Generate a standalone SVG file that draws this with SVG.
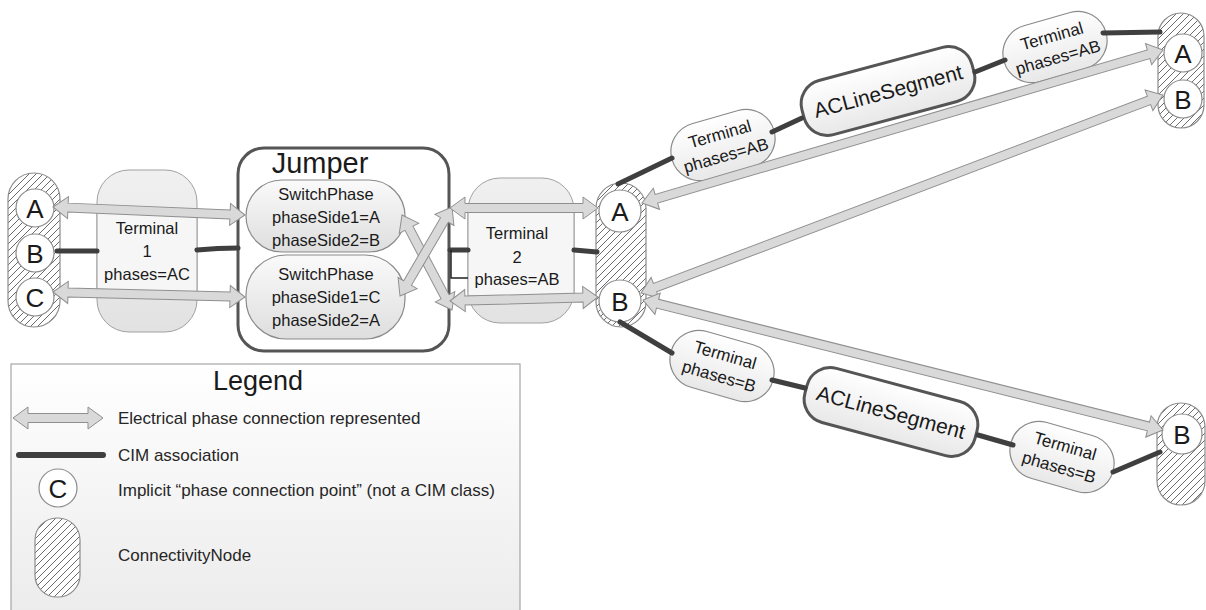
<svg xmlns="http://www.w3.org/2000/svg" width="1206" height="610" viewBox="0 0 1206 610">
  <defs>
    <pattern id="hatch" patternUnits="userSpaceOnUse" width="7" height="7">
      <rect width="7" height="7" fill="#ffffff"/>
      <path d="M0,7 L7,0 M-1.75,1.75 L1.75,-1.75 M5.25,8.75 L8.75,5.25" stroke="#3a3a3a" stroke-width="0.75"/>
    </pattern>
    <linearGradient id="gTerm" x1="0" y1="0" x2="0" y2="1">
      <stop offset="0" stop-color="#f0f0f0"/>
      <stop offset="1" stop-color="#e2e2e2"/>
    </linearGradient>
    <linearGradient id="gSoft" x1="0" y1="0" x2="0" y2="1">
      <stop offset="0" stop-color="#fafafa"/>
      <stop offset="1" stop-color="#dedede"/>
    </linearGradient>
    <linearGradient id="gPill" x1="0" y1="0" x2="0" y2="1">
      <stop offset="0" stop-color="#ffffff"/>
      <stop offset="1" stop-color="#e8e8e8"/>
    </linearGradient>
    <linearGradient id="gLegend" x1="0" y1="0" x2="0" y2="1">
      <stop offset="0" stop-color="#ffffff"/>
      <stop offset="1" stop-color="#ebebeb"/>
    </linearGradient>
    <style>
      text { font-family: "Liberation Sans", Arial, sans-serif; fill: #1a1a1a; }
      .cn { fill: url(#hatch); stroke: #8c8c8c; stroke-width: 1.2; }
      .pt { fill: #ffffff; stroke: #8c8c8c; stroke-width: 1.2; }
      .ptl { font-size: 26px; text-anchor: middle; dominant-baseline: central; }
      .term { fill: url(#gTerm); stroke: #a0a0a0; stroke-width: 1; }
      .inner { fill: #f6f6f6; stroke: #9a9a9a; stroke-width: 1; }
      .tt { font-size: 16.5px; text-anchor: middle; dominant-baseline: central; }
      .sp { fill: url(#gSoft); stroke: #8a8a8a; stroke-width: 1.2; }
      .pill { fill: url(#gPill); stroke: #8a8a8a; stroke-width: 1.2; }
      .pl { font-size: 17px; text-anchor: middle; dominant-baseline: central; }
      .acls { fill: url(#gPill); stroke: #555555; stroke-width: 3; }
      .al { font-size: 21px; text-anchor: middle; dominant-baseline: central; }
      .assoc { stroke: #3f3f3f; stroke-width: 5; stroke-linecap: round; fill: none; }
      .phase { fill: #d9d9d9; stroke: #8f8f8f; stroke-width: 1; stroke-linejoin: miter; }
      .lg { font-size: 17px; dominant-baseline: central; fill: #262626; }
    </style>
  </defs>

  <!-- ConnectivityNode on the left with three phase points -->
  <g id="cn1">
    <rect class="cn" x="8" y="173" width="52" height="154" rx="26"/>
    <circle class="pt" cx="35" cy="208" r="19"/>
    <circle class="pt" cx="35" cy="253" r="19"/>
    <circle class="pt" cx="35" cy="297" r="19"/>
    <text class="ptl" x="35" y="209">A</text>
    <text class="ptl" x="35" y="254">B</text>
    <text class="ptl" x="35" y="298">C</text>
  </g>

  <g id="terminal1">
    <rect class="term" x="97" y="170" width="100" height="162" rx="32"/>
    <rect class="inner" x="97" y="212" width="100" height="82"/>
    <text class="tt" x="147" y="228">Terminal</text>
    <text class="tt" x="147" y="251">1</text>
    <text class="tt" x="147" y="274">phases=AC</text>
  </g>

  <g id="jumper">
    <rect x="238" y="148" width="211" height="203" rx="26" fill="#ffffff" stroke="#555555" stroke-width="3"/>
    <text x="320" y="173" font-size="29" text-anchor="middle">Jumper</text>
  </g>

  <g id="switchphase1">
    <rect class="sp" x="246" y="180" width="159" height="72" rx="36"/>
    <text class="tt" x="326" y="194">SwitchPhase</text>
    <text class="tt" x="326" y="217">phaseSide1=A</text>
    <text class="tt" x="326" y="240">phaseSide2=B</text>
  </g>

  <g id="switchphase2">
    <rect class="sp" x="246" y="255" width="159" height="84" rx="40"/>
    <text class="tt" x="326" y="274">SwitchPhase</text>
    <text class="tt" x="326" y="297">phaseSide1=C</text>
    <text class="tt" x="326" y="320">phaseSide2=A</text>
  </g>

  <g id="terminal2">
    <rect class="term" x="468" y="178" width="106" height="145" rx="32"/>
    <rect class="inner" x="468" y="212" width="106" height="84"/>
    <text class="tt" x="517" y="233">Terminal</text>
    <text class="tt" x="517" y="257">2</text>
    <text class="tt" x="517" y="279">phases=AB</text>
  </g>

  <!-- ConnectivityNode in the middle, phases A and B -->
  <g id="cn2">
    <rect class="cn" x="596" y="183" width="50" height="144" rx="25"/>
    <circle class="pt" cx="620" cy="211" r="21"/>
    <circle class="pt" cx="620" cy="301" r="21"/>
    <text class="ptl" x="620" y="212">A</text>
    <text class="ptl" x="620" y="302">B</text>
  </g>

  <g id="terminal-ab-1" transform="translate(723,145) rotate(-16)">
    <rect class="pill" x="-53" y="-29" width="106" height="58" rx="29"/>
    <text class="pl" x="0" y="-11">Terminal</text>
    <text class="pl" x="0" y="11">phases=AB</text>
  </g>

  <g id="aclinesegment-ab" transform="translate(888,91) rotate(-15)">
    <rect class="acls" x="-88" y="-28" width="176" height="56" rx="24"/>
    <text class="al" x="0" y="0">ACLineSegment</text>
  </g>

  <g id="terminal-ab-2" transform="translate(1055,47) rotate(-16)">
    <rect class="pill" x="-53" y="-29" width="106" height="58" rx="29"/>
    <text class="pl" x="0" y="-11">Terminal</text>
    <text class="pl" x="0" y="11">phases=AB</text>
  </g>

  <g id="cn3">
    <rect class="cn" x="1158" y="13" width="46" height="115" rx="23"/>
    <circle class="pt" cx="1183" cy="53" r="19"/>
    <circle class="pt" cx="1183" cy="99" r="19"/>
    <text class="ptl" x="1183" y="54" font-size="25">A</text>
    <text class="ptl" x="1183" y="100" font-size="25">B</text>
  </g>

  <g id="terminal-b-1" transform="translate(722,366) rotate(16)">
    <rect class="pill" x="-53" y="-29" width="106" height="58" rx="29"/>
    <text class="pl" x="0" y="-11">Terminal</text>
    <text class="pl" x="0" y="11">phases=B</text>
  </g>

  <g id="aclinesegment-b" transform="translate(891,412) rotate(15)">
    <rect class="acls" x="-88" y="-28" width="176" height="56" rx="24"/>
    <text class="al" x="0" y="0">ACLineSegment</text>
  </g>

  <g id="terminal-b-2" transform="translate(1062,457) rotate(16)">
    <rect class="pill" x="-53" y="-29" width="106" height="58" rx="29"/>
    <text class="pl" x="0" y="-11">Terminal</text>
    <text class="pl" x="0" y="11">phases=B</text>
  </g>

  <g id="cn4">
    <rect class="cn" x="1157" y="403" width="48" height="102" rx="24"/>
    <circle class="pt" cx="1182" cy="434" r="20"/>
    <text class="ptl" x="1182" y="435" font-size="25">B</text>
  </g>

  <!-- Connectors: CIM associations and phase connections -->
  <g id="connectors">
    <line class="assoc" x1="57" y1="251" x2="97" y2="251"/>
    <path class="assoc" d="M197,250 Q218,248 238,248"/>
    <line class="assoc" x1="450" y1="250" x2="468" y2="250"/>
    <path d="M451,250 V278 H468" fill="none" stroke="#222222" stroke-width="1.5"/>
    <line class="assoc" x1="574" y1="250" x2="597" y2="252"/>
    <line class="assoc" x1="618" y1="184" x2="672" y2="158"/>
    <line class="assoc" x1="772" y1="132" x2="802" y2="118"/>
    <line class="assoc" x1="975" y1="72" x2="1005" y2="60"/>
    <line class="assoc" x1="1103" y1="33" x2="1160" y2="32"/>
    <line class="assoc" x1="620" y1="322" x2="672" y2="353"/>
    <line class="assoc" x1="772" y1="380" x2="805" y2="388"/>
    <line class="assoc" x1="978" y1="435" x2="1013" y2="445"/>
    <line class="assoc" x1="1113" y1="472" x2="1160" y2="452"/>

    <path class="phase" transform="translate(53,207) rotate(2.39)" d="M0,0 L15,-11 L15,-4.5 L177.2,-4.5 L177.2,-11 L192.2,0 L177.2,11 L177.2,4.5 L15,4.5 L15,11 Z"/>
    <path class="phase" transform="translate(53,292) rotate(1.49)" d="M0,0 L15,-11 L15,-4.5 L177.1,-4.5 L177.1,-11 L192.1,0 L177.1,11 L177.1,4.5 L15,4.5 L15,11 Z"/>
    <path class="phase" transform="translate(402,215) rotate(62.24)" d="M0,0 L15,-11 L15,-4.5 L92.4,-4.5 L92.4,-11 L107.4,0 L92.4,11 L92.4,4.5 L15,4.5 L15,11 Z"/>
    <path class="phase" transform="translate(400,296) rotate(-59.7)" d="M0,0 L15,-11 L15,-4.5 L88.1,-4.5 L88.1,-11 L103.1,0 L88.1,11 L88.1,4.5 L15,4.5 L15,11 Z"/>
    <path class="phase" transform="translate(450,208)" d="M0,0 L15,-11 L15,-4.5 L133,-4.5 L133,-11 L148,0 L133,11 L133,4.5 L15,4.5 L15,11 Z"/>
    <path class="phase" transform="translate(450,301) rotate(-1.55)" d="M0,0 L15,-11 L15,-4.5 L133,-4.5 L133,-11 L148,0 L133,11 L133,4.5 L15,4.5 L15,11 Z"/>
    <path class="phase" transform="translate(642,203) rotate(-16.37)" d="M0,0 L15,-11 L15,-4.5 L528,-4.5 L528,-11 L543,0 L528,11 L528,4.5 L15,4.5 L15,11 Z"/>
    <path class="phase" transform="translate(641,293) rotate(-20.77)" d="M0,0 L15,-11 L15,-4.5 L543.3,-4.5 L543.3,-11 L558.3,0 L543.3,11 L543.3,4.5 L15,4.5 L15,11 Z"/>
    <path class="phase" transform="translate(643,300) rotate(14.04)" d="M0,0 L15,-11 L15,-4.5 L521,-4.5 L521,-11 L536,0 L521,11 L521,4.5 L15,4.5 L15,11 Z"/>
  </g>

  <g id="legend">
    <rect x="11" y="364" width="509" height="260" fill="url(#gLegend)" stroke="#a6a6a6" stroke-width="1.2"/>
    <text x="258" y="390" font-size="27" text-anchor="middle">Legend</text>
    <path class="phase" transform="translate(13,418)" d="M0,0 L15,-11 L15,-4.5 L75,-4.5 L75,-11 L90,0 L75,11 L75,4.5 L15,4.5 L15,11 Z"/>
    <text class="lg" x="118" y="418">Electrical phase connection represented</text>
    <line x1="19" y1="455" x2="103" y2="455" stroke="#3f3f3f" stroke-width="6" stroke-linecap="round"/>
    <text class="lg" x="118" y="455">CIM association</text>
    <circle class="pt" cx="58" cy="488" r="19"/>
    <text class="ptl" x="58" y="489" font-size="21">C</text>
    <text class="lg" x="118" y="490">Implicit “phase connection point” (not a CIM class)</text>
    <rect class="cn" x="35" y="518" width="45" height="79" rx="22"/>
    <text class="lg" x="118" y="555">ConnectivityNode</text>
  </g>
</svg>
